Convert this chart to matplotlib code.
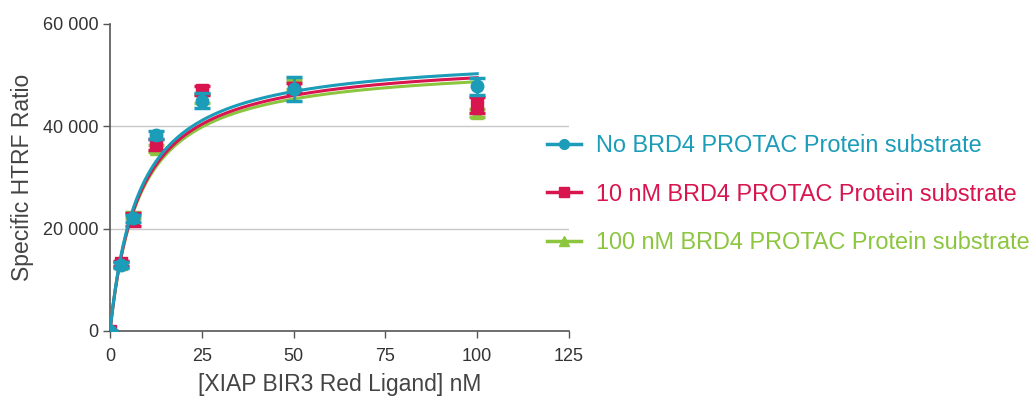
import numpy as np
import matplotlib.pyplot as plt
from matplotlib.ticker import FuncFormatter

plt.rcParams['font.family'] = ['Liberation Sans', 'DejaVu Sans']

# ligand concentration (nM)
conc = [0, 3.125, 6.25, 12.5, 25, 50, 100]

# specific HTRF ratio, mean and sd per condition
no_protac = [0, 12900, 22000, 38300, 45000, 47300, 47800]
no_protac_sd = [0, 500, 700, 800, 1500, 2300, 1600]
protac_10 = [0, 13200, 21800, 36500, 47000, 47500, 44200]
protac_10_sd = [0, 500, 1300, 1100, 800, 1000, 1600]
protac_100 = [0, 13000, 22600, 35600, 45500, 48200, 42600]
protac_100_sd = [0, 400, 600, 700, 900, 900, 800]

# one-site binding fits: Bmax, Kd
fit_no = (54300, 8.0)
fit_10 = (53500, 8.1)
fit_100 = (52600, 8.0)

labels = ["No BRD4 PROTAC Protein substrate",
          "10 nM BRD4 PROTAC Protein substrate",
          "100 nM BRD4 PROTAC Protein substrate"]
colors = ["#1b9cb8", "#d8154f", "#8cc63f"]
markers = ["o", "s", "^"]

fig = plt.figure(figsize=(10.34, 4.01), dpi=100)
ax = fig.add_axes([0.1064, 0.1746, 0.4439, 0.7656])

xs = np.linspace(0, 100, 400)
series = [(no_protac, no_protac_sd, fit_no),
          (protac_10, protac_10_sd, fit_10),
          (protac_100, protac_100_sd, fit_100)]

for y in [20000, 40000]:
    ax.axhline(y, color="#c8c8c8", lw=1, zorder=0)

handles = []
for i in [2, 1, 0]:
    vals, sd, (bmax, kd) = series[i]
    ax.errorbar(conc, vals, yerr=sd, fmt="none", ecolor=colors[i], elinewidth=2,
                capsize=6, capthick=2.5, zorder=3 + (2 - i))
    ax.plot(conc, vals, ls="none", marker=markers[i], ms=9, color=colors[i],
            zorder=3 + (2 - i))
    ax.plot(xs, bmax * xs / (kd + xs), color=colors[i], lw=2.2, zorder=3 + (2 - i))

for i in range(3):
    h, = ax.plot([], [], color=colors[i], marker=markers[i], ms=7, lw=2.5)
    handles.append(h)

leg = ax.legend(handles, labels, loc="center left", bbox_to_anchor=(0.907, 0.446),
                frameon=False, fontsize=16.9, handlelength=1.42, labelspacing=1.1,
                handletextpad=0.63)
for t, c in zip(leg.get_texts(), colors):
    t.set_color(c)

ax.set_xlim(0, 125)
ax.set_ylim(0, 60000)
ax.set_xticks([0, 25, 50, 75, 100, 125])
ax.set_yticks([0, 20000, 40000, 60000])
ax.yaxis.set_major_formatter(FuncFormatter(lambda v, p: "{:,}".format(int(v)).replace(",", " ")))
for s in ["top", "right"]:
    ax.spines[s].set_visible(False)
for s in ["left", "bottom"]:
    ax.spines[s].set_color("#555555")
    ax.spines[s].set_linewidth(1.2)
ax.tick_params(colors="#555555", labelcolor="#333333", labelsize=13, length=5, width=1)
ax.tick_params(axis="x", pad=7)
ax.set_xlabel("[XIAP BIR3 Red Ligand] nM", fontsize=16.5, color="#444444", labelpad=6)
ax.set_ylabel("Specific HTRF Ratio", fontsize=16.5, color="#444444", labelpad=6)

fig.savefig("out.png", dpi=100)
